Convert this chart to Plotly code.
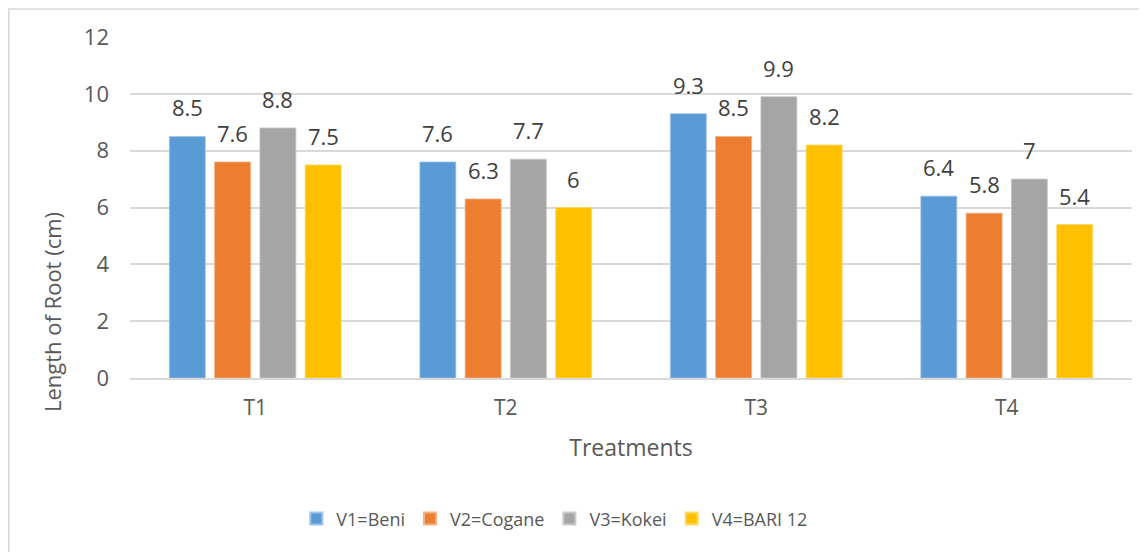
import plotly.graph_objects as go

categories = ["T1", "T2", "T3", "T4"]
series_names = ["V1=Beni", "V2=Cogane", "V3=Kokei", "V4=BARI 12"]
v1_beni = [8.5, 7.6, 9.3, 6.4]
v2_cogane = [7.6, 6.3, 8.5, 5.8]
v3_kokei = [8.8, 7.7, 9.9, 7.0]
v4_bari12 = [7.5, 6.0, 8.2, 5.4]
y_ticks = [0, 2, 4, 6, 8, 10, 12]

series_values = [v1_beni, v2_cogane, v3_kokei, v4_bari12]
colors = ["#5B9BD5", "#ED7D31", "#A5A5A5", "#FFC000"]
outline = ["#9DC3E6", "#F4B183", "#C9C9C9", "#FFD966"]

FONT = "Open Sans"
bargap = 0.277

fig = go.Figure()
for name, vals, c, oc in zip(series_names, series_values, colors, outline):
    fig.add_trace(go.Bar(
        x=categories, y=vals, name=name,
        marker=dict(color=c, line=dict(color=oc, width=0.8)),
    ))

# data labels
n = len(series_values)
slot = (1 - bargap) / n
for k, vals in enumerate(series_values):
    for i, v in enumerate(vals):
        fig.add_annotation(
            x=i + (k - (n - 1) / 2) * slot, y=v, xref="x", yref="y",
            text=f"{v:g}", showarrow=False, yanchor="bottom", yshift=12,
            font=dict(family=FONT, size=22, color="#404040"),
        )

# page body has an 8px margin, so the figure is 8px smaller than the window
W, H = 1139, 544
ml, mr, mt, mb = 122, 15, 28.5, 174
pw = W - ml - mr
ph = H - mt - mb

def px(xp):
    return (xp - ml) / pw

def py(yp):
    return (H - mb - yp) / ph

# y axis title (centred on the whole chart height, as in the original)
fig.add_annotation(
    x=px(44), y=py(304), xref="paper", yref="paper",
    text="Length of Root (cm)", textangle=-90, showarrow=False,
    xanchor="center", yanchor="middle",
    font=dict(family=FONT, size=22, color="#595959"),
)

# chart border
fig.add_shape(type="rect", xref="paper", yref="paper",
              x0=px(0.8), x1=px(1200), y0=py(600), y1=py(0.4),
              line=dict(color="#D9D9D9", width=1.6), fillcolor="rgba(0,0,0,0)",
              layer="below")

fig.update_layout(
    width=W, height=H,
    margin=dict(l=ml, r=mr, t=mt, b=mb, autoexpand=False),
    paper_bgcolor="white", plot_bgcolor="white",
    barmode="group", bargap=bargap, bargroupgap=0.205,
    font=dict(family=FONT, color="#595959"),
    showlegend=True,
    legend=dict(orientation="h", x=0.424, xanchor="center", y=py(511), yanchor="middle",
                font=dict(family=FONT, size=18, color="#595959"),
                itemwidth=30, itemsizing="constant", traceorder="normal"),
    xaxis=dict(
        tickfont=dict(family=FONT, size=21, color="#595959"),
        showgrid=False, showline=True, linecolor="#D9D9D9", linewidth=1.5,
        ticks="", ticklabelstandoff=10,
        title=dict(text="Treatments", font=dict(family=FONT, size=23, color="#595959"), standoff=20),
    ),
    yaxis=dict(
        range=[0, 12], tickvals=y_ticks,
        tickfont=dict(family=FONT, size=22, color="#595959"),
        showgrid=True, gridcolor="#D9D9D9", gridwidth=1.5, zeroline=False,
        showline=False, ticks="", ticklabelstandoff=20,
    ),
)

fig.write_html("out.html")
